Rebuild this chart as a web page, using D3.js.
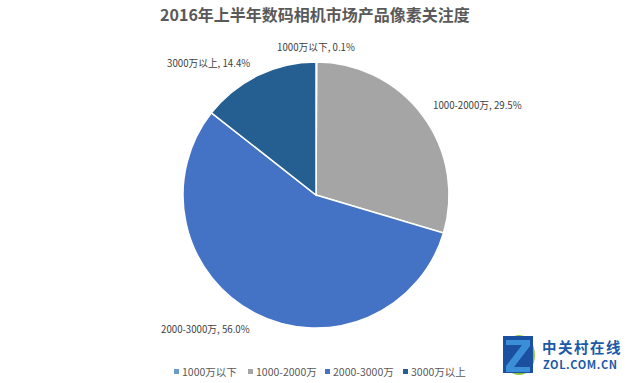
<!DOCTYPE html>
<html><head><meta charset="utf-8">
<script src="https://cdn.jsdelivr.net/npm/d3@7/dist/d3.min.js"></script>
<style>body{margin:0;background:#fff}svg{display:block}text{font-family:"Noto Sans CJK SC","Noto Sans",sans-serif}</style>
</head><body><svg id="c" width="640" height="383"></svg>
<script>
const categories = ["1000万以下", "1000-2000万", "2000-3000万", "3000万以上"];
const values = [0.1, 29.5, 56.0, 14.4];
const colors = ["#6a9cc9", "#a5a5a5", "#4472c4", "#255e91"];
const title = "2016年上半年数码相机市场产品像素关注度";

const svg = d3.select("#c");
const cx = 316, cy = 195, r = 133;

svg.append("text").attr("x", 315).attr("y", 21).attr("text-anchor", "middle")
  .attr("font-size", 16).attr("font-weight", "bold").attr("fill", "#595959").text(title);

const pie = d3.pie().sort(null).value(d => d)(values);
const arc = d3.arc().innerRadius(0).outerRadius(r);
const g = svg.append("g").attr("transform", `translate(${cx},${cy})`);
g.selectAll("path").data(pie).join("path")
  .attr("d", arc).attr("fill", (d, i) => colors[i])
  .attr("stroke", "#fff").attr("stroke-width", 1.5);

const labelPos = [
  {x: 316, y: 51, anchor: "middle"},
  {x: 433, y: 109, anchor: "start"},
  {x: 161, y: 333, anchor: "start"},
  {x: 167, y: 67, anchor: "start"}
];
svg.selectAll("text.lbl").data(pie).join("text").attr("class", "lbl")
  .attr("x", (d, i) => labelPos[i].x).attr("y", (d, i) => labelPos[i].y)
  .attr("text-anchor", (d, i) => labelPos[i].anchor)
  .attr("font-size", 9.7).attr("fill", "#404040")
  .text((d, i) => `${categories[i]}, ${values[i].toFixed(1)}%`);

// legend
const legX = [174, 248, 325, 403];
const lg = svg.append("g");
categories.forEach((c, i) => {
  lg.append("rect").attr("x", legX[i]).attr("y", 369).attr("width", 5).attr("height", 5).attr("fill", colors[i]);
  lg.append("text").attr("x", legX[i] + 8).attr("y", 376).attr("font-size", 10.5).attr("fill", "#595959").text(c);
});

// watermark logo
const wm = svg.append("g");
wm.append("ellipse").attr("cx", 519).attr("cy", 355).attr("rx", 16).attr("ry", 20).attr("fill", "#8dc63f");
wm.append("path").attr("d", "M503,336 L533,336 L533,373 L503,373 Z").attr("fill", "#1b4fa0");
wm.append("path").attr("d", "M506,340 L530,340 L530,346 L514,367 L530,367 L530,372 L506,372 L506,366 L522,345 L506,345 Z").attr("fill", "#3a8fd8");
wm.append("text").attr("x", 542).attr("y", 353).attr("font-size", 14.5).attr("letter-spacing", 1.5).attr("font-weight", "bold").attr("fill", "#1a5aa8").text("中关村在线");
wm.append("text").attr("x", 543).attr("y", 369).attr("font-size", 11).attr("letter-spacing", 0.6).attr("font-weight", "bold").attr("fill", "#1a5aa8").attr("font-family", "Liberation Sans, Arial").text("ZOL.COM.CN");
</script></body></html>
